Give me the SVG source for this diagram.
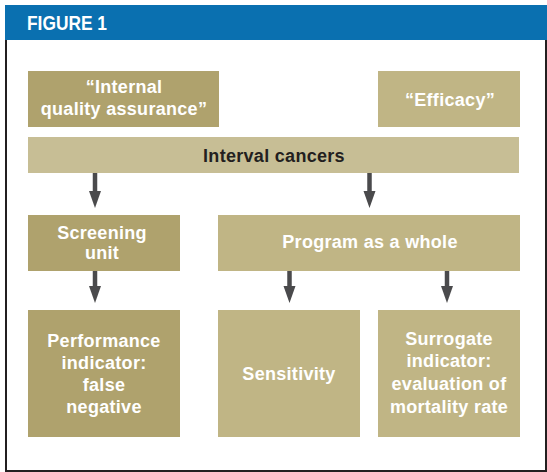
<svg xmlns="http://www.w3.org/2000/svg" width="547" height="472" viewBox="0 0 547 472">
  <style>
    .lbl { font-family: "Liberation Sans", Arial, Helvetica, sans-serif; font-weight: bold; font-size: 18px; letter-spacing: 0.3px; text-anchor: middle; fill: #ffffff; }
    .dark { fill: #231f20; }
    .boxA { fill: #afa26d; }
    .boxB { fill: #c0b585; }
    .bar { fill: #c7be95; }
    .shaft { stroke: #4a4a4c; stroke-width: 4.5; fill: none; }
    .head { fill: #4a4a4c; }
  </style>
  <defs>
    <polygon id="arrowhead" class="head" points="-6,0 6,0 0,17"/>
  </defs>

  <!-- page and frame -->
  <rect x="0" y="0" width="547" height="472" fill="#ffffff"/>
  <path d="M6,40 V471 H546 V40" fill="none" stroke="#231f20" stroke-width="2"/>

  <!-- title band -->
  <g id="title">
    <rect x="5" y="5" width="542" height="35" fill="#0a70b0"/>
    <text x="27" y="30" font-family="'Liberation Sans', Arial, sans-serif" font-weight="bold" font-size="20" fill="#ffffff" textLength="80" lengthAdjust="spacingAndGlyphs">FIGURE 1</text>
  </g>

  <g id="internal-qa">
    <rect class="boxA" x="28" y="71" width="191" height="56"/>
    <text class="lbl" x="124" y="93">“Internal</text>
    <text class="lbl" x="124" y="115">quality assurance”</text>
  </g>

  <g id="efficacy">
    <rect class="boxB" x="378" y="71" width="142" height="56"/>
    <text class="lbl" x="450" y="106">“Efficacy”</text>
  </g>

  <g id="interval-cancers">
    <rect class="bar" x="28" y="137" width="491" height="36"/>
    <text class="lbl dark" x="274" y="162">Interval cancers</text>
  </g>

  <g id="screening-unit">
    <rect class="boxA" x="28" y="215" width="152" height="56"/>
    <text class="lbl" x="102" y="239">Screening</text>
    <text class="lbl" x="102" y="259">unit</text>
  </g>

  <g id="program">
    <rect class="boxB" x="218" y="215" width="302" height="56"/>
    <text class="lbl" x="370" y="248">Program as a whole</text>
  </g>

  <g id="performance">
    <rect class="boxA" x="28" y="310" width="152" height="127"/>
    <text class="lbl" x="104" y="347">Performance</text>
    <text class="lbl" x="104" y="369">indicator:</text>
    <text class="lbl" x="104" y="391">false</text>
    <text class="lbl" x="104" y="413">negative</text>
  </g>

  <g id="sensitivity">
    <rect class="boxB" x="218" y="310" width="142" height="127"/>
    <text class="lbl" x="289" y="380">Sensitivity</text>
  </g>

  <g id="surrogate">
    <rect class="boxB" x="378" y="310" width="142" height="127"/>
    <text class="lbl" x="449" y="345">Surrogate</text>
    <text class="lbl" x="449" y="367">indicator:</text>
    <text class="lbl" x="449" y="390">evaluation of</text>
    <text class="lbl" x="449" y="413">mortality rate</text>
  </g>

  <!-- connectors -->
  <g id="connectors">
    <line class="shaft" x1="95" y1="173" x2="95" y2="193"/>
    <use href="#arrowhead" x="95" y="191"/>
    <line class="shaft" x1="369.5" y1="173" x2="369.5" y2="193"/>
    <use href="#arrowhead" x="369.5" y="191"/>
    <line class="shaft" x1="95" y1="271" x2="95" y2="288"/>
    <use href="#arrowhead" x="95" y="286"/>
    <line class="shaft" x1="289.5" y1="271" x2="289.5" y2="288"/>
    <use href="#arrowhead" x="289.5" y="286"/>
    <line class="shaft" x1="447" y1="271" x2="447" y2="288"/>
    <use href="#arrowhead" x="447" y="286"/>
  </g>
</svg>
